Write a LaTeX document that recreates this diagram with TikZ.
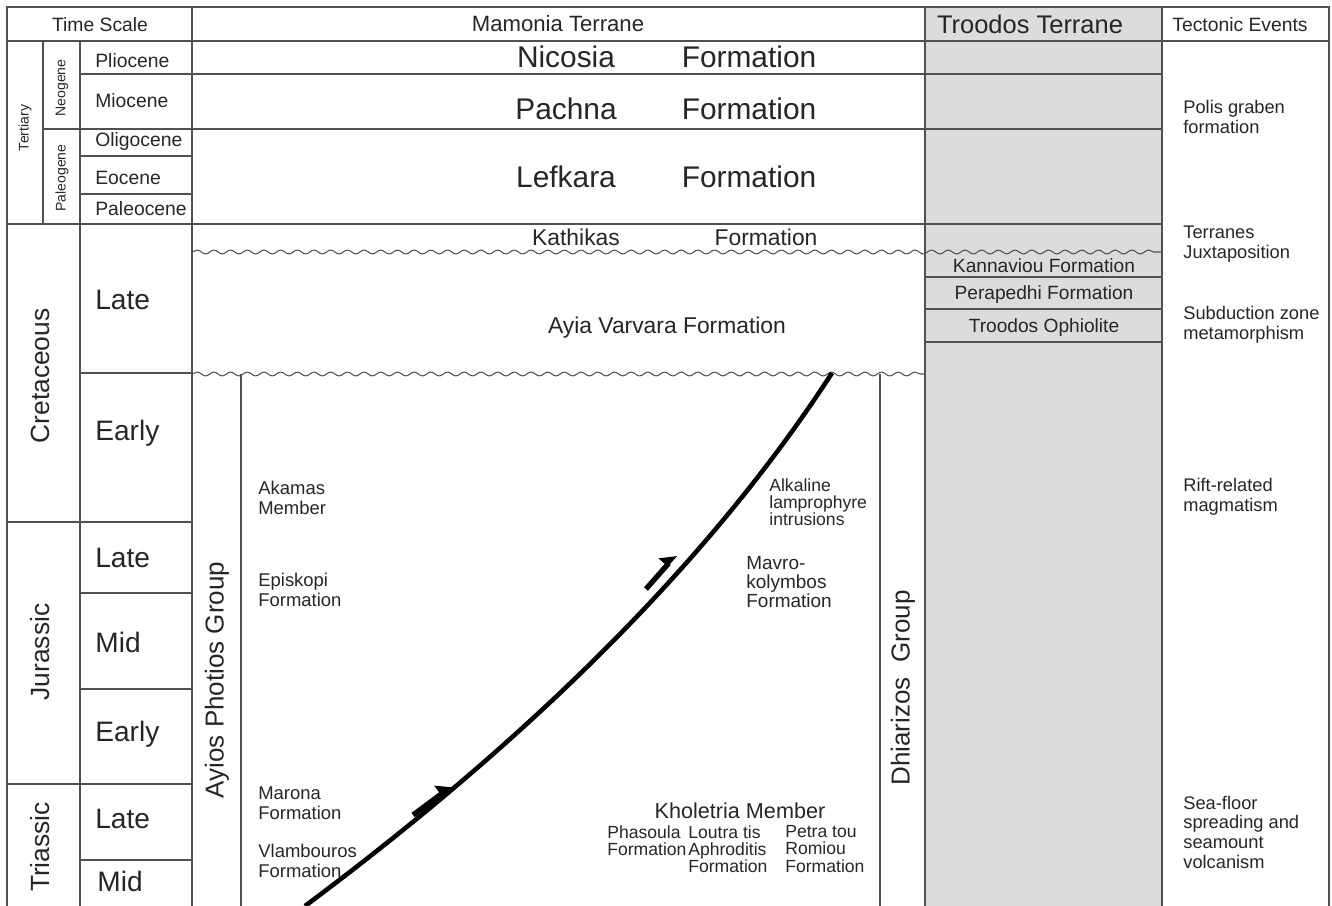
\documentclass[tikz,border=0pt]{standalone}
\usepackage{fontspec}
\setmainfont{Liberation Sans}
\usetikzlibrary{decorations.pathmorphing,arrows.meta}
\definecolor{troodosgray}{HTML}{DCDCDC}
\definecolor{gridline}{HTML}{505050}
\tikzset{
  grid/.style={draw=gridline, line width=0.6pt},
  wavy/.style={grid, decorate, decoration={snake, amplitude=1.1pt, segment length=9.5pt}},
  txt/.style={inner sep=0pt, text=black!85},
  hdr/.style={txt, font=\fontsize{11pt}{13pt}\selectfont},
  epoch/.style={txt, anchor=west, font=\fontsize{11pt}{13pt}\selectfont},
  subper/.style={txt, rotate=90, font=\fontsize{8pt}{9pt}\selectfont},
  age/.style={txt, anchor=west, font=\fontsize{16pt}{18pt}\selectfont},
  period/.style={txt, rotate=90, font=\fontsize{15pt}{18pt}\selectfont},
  fmbig/.style={txt, font=\fontsize{17pt}{20pt}\selectfont},
  fmmid/.style={txt, font=\fontsize{13pt}{15pt}\selectfont},
  group/.style={txt, rotate=90, font=\fontsize{14.8pt}{17pt}\selectfont},
  lbl/.style={txt, anchor=west, align=left, font=\fontsize{10.5pt}{11.3pt}\selectfont},
  lblsm/.style={txt, anchor=west, align=left, font=\fontsize{10pt}{9.8pt}\selectfont},
  trd/.style={txt, font=\fontsize{10.9pt}{13pt}\selectfont},
  ev/.style={txt, anchor=west, align=left, font=\fontsize{10.4pt}{11.2pt}\selectfont},
  slip/.style={line width=3pt, -{Triangle[harpoon, length=7pt, width=12pt]}}
}
\begin{document}
\begin{tikzpicture}[x=0.02cm, y=-0.02cm]
    \useasboundingbox (0,0) rectangle (1332,906);
    % Troodos
    \fill[troodosgray] (925,7) rectangle (1162,906);

    % Marco y columnas
    \draw[grid] (7,906) -- (7,7) -- (1329,7) -- (1329,906);
    \draw[grid] (7,41) -- (1329,41);
    \foreach \x in {192,925,1162} \draw[grid] (\x,7) -- (\x,906);
    \draw[grid] (80,41) -- (80,906);
    \draw[grid] (43,41) -- (43,224);

    % Escala de tiempo
    \foreach \y in {156,194,373,593,689,860} \draw[grid] (80,\y) -- (192,\y);
    \foreach \y in {522,784} \draw[grid] (7,\y) -- (192,\y);
    \draw[grid] (80,74) -- (1162,74);
    \draw[grid] (43,129) -- (1162,129);
    \draw[grid] (7,224) -- (1162,224);
    \foreach \y in {277,309,342} \draw[grid] (925,\y) -- (1162,\y);

    % Discordancias
    \draw[wavy] (192,252) -- (1162,252);
    \draw[wavy] (192,374) -- (925,374);

    % Grupos
    \draw[grid] (241,374) -- (241,906);
    \draw[grid] (880,374) -- (880,906);

    % Cabalgamiento
    \draw[line width=2.6pt] (305,906) .. controls (541,730) and (716,552) .. (832,373);
    \coordinate (s1) at (413,815);
    \coordinate (e1) at (452,786);
    \coordinate (s2) at (646,589);
    \coordinate (e2) at (676,555);
    \draw[slip] (s1) -- (e1);
    \draw[slip] (s2) -- (e2);

    % Encabezados
    \node[hdr] (ts) at (100,25) {Time Scale};
    \node[txt, font=\fontsize{12.6pt}{14pt}\selectfont] (mam) at (558,24) {Mamonia Terrane};
    \node[txt, font=\fontsize{14.5pt}{16pt}\selectfont] (tro) at (1030,24) {Troodos Terrane};
    \node[hdr] (tec) at (1240,25) {Tectonic Events};

    % Epocas
    \node[subper] (ter) at (25,128) {Tertiary};
    \node[subper] (neo) at (62,88) {Neogene};
    \node[subper] (pal) at (62,178) {Paleogene};
    \node[epoch] (plio) at (95,61) {Pliocene};
    \node[epoch] (mio) at (95,101) {Miocene};
    \node[epoch] (oli) at (95,142) {Oligocene};
    \node[epoch] (eoc) at (95,178) {Eocene};
    \node[epoch] (pale) at (95,209) {Paleocene};
    \node[period] (cre) at (40,376) {Cretaceous};
    \node[period] (jur) at (40,652) {Jurassic};
    \node[period] (tri) at (40,847) {Triassic};
    \node[age] (lk) at (95,300) {Late};
    \node[age] (ek) at (95,433) {Early};
    \node[age] (lj) at (95,558) {Late};
    \node[age] (mj) at (95,642) {Mid};
    \node[age] (ej) at (95,734) {Early};
    \node[age] (lt) at (95,819) {Late};
    \node[age] (mt) at (97,881) {Mid};

    % Mamonia
    \node[fmbig] (nic) at (566,57) {Nicosia};
    \node[fmbig] (nicf) at (749,57) {Formation};
    \node[fmbig] (pac) at (566,109) {Pachna};
    \node[fmbig] (pacf) at (749,109) {Formation};
    \node[fmbig] (lef) at (566,177) {Lefkara};
    \node[fmbig] (leff) at (749,177) {Formation};
    \node[fmmid] (kat) at (576,237) {Kathikas};
    \node[fmmid] (katf) at (766,237) {Formation};
    \node[fmmid] (ayv) at (667,328) {Ayia Varvara Formation};
    \node[group] (ayp) at (217,680) {Ayios Photios Group};
    \node[group] (dhi) at (903,688) {Dhiarizos\ \ Group};
    \node[lbl] (aka) at (258,498) {Akamas\\Member};
    \node[lbl] (epi) at (258,590) {Episkopi\\Formation};
    \node[lbl] (mar) at (258,803) {Marona\\Formation};
    \node[lbl] (vla) at (258,861) {Vlambouros\\Formation};
    \node[lblsm] (alk) at (769,502) {Alkaline\\lamprophyre\\intrusions};
    \node[txt, anchor=west, align=left, font=\fontsize{10.8pt}{10.8pt}\selectfont] (mav) at (746,582) {Mavro-\\kolymbos\\Formation};
    \node[txt, font=\fontsize{12.3pt}{14pt}\selectfont] (kho) at (740,811) {Kholetria Member};
    \node[lblsm] (pha) at (607,841) {Phasoula\\Formation};
    \node[lblsm] (lou) at (688,849) {Loutra tis\\Aphroditis\\Formation};
    \node[lblsm] (pet) at (785,849) {Petra tou\\Romiou\\Formation};

    % Troodos
    \node[trd] (kan) at (1044,266) {Kannaviou Formation};
    \node[trd] (per) at (1044,295) {Perapedhi Formation};
    \node[trd] (oph) at (1044,328) {Troodos Ophiolite};

    % Eventos tectonicos
    \node[ev] (pol) at (1183,117) {Polis graben\\formation};
    \node[ev] (jux) at (1183,244) {Terranes\\Juxtaposition};
    \node[ev] (sub) at (1183,325) {Subduction zone\\metamorphism};
    \node[ev] (rif) at (1183,497) {Rift-related\\magmatism};
    \node[ev] (sea) at (1183,832) {Sea-floor\\spreading and\\seamount\\volcanism};
\end{tikzpicture}
\end{document}
